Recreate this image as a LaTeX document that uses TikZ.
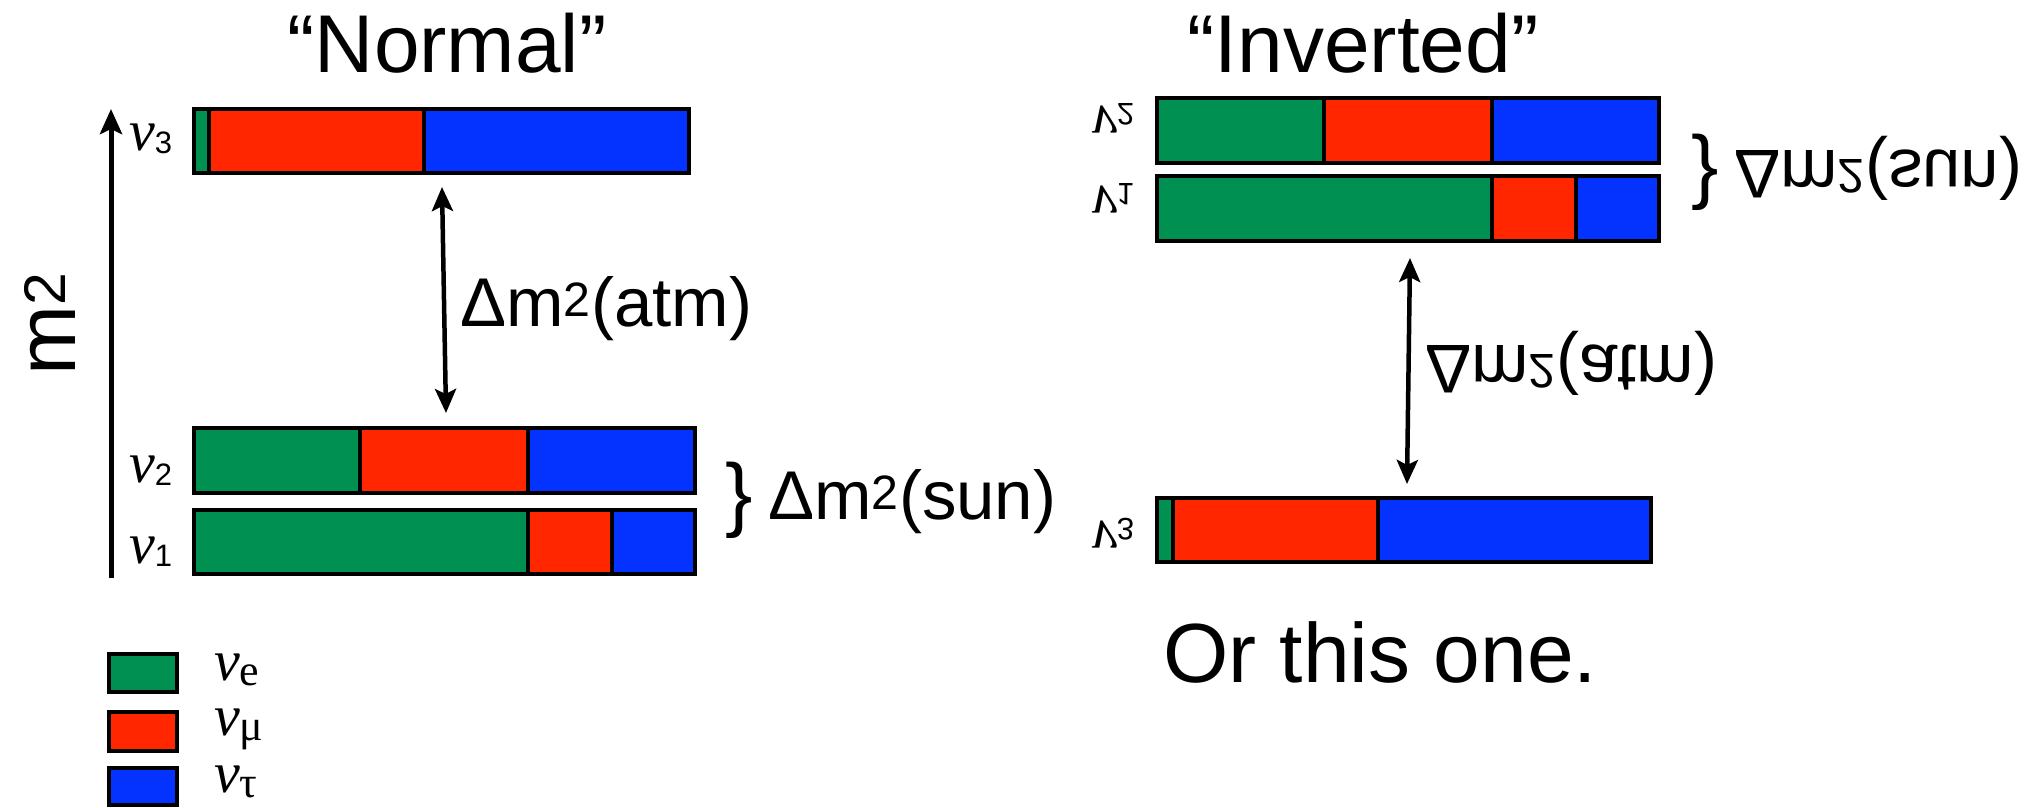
\documentclass[tikz,border=0pt]{standalone}
\usepackage{fontspec,graphicx}
\setmainfont{Liberation Sans}
\newfontfamily\nufont{Liberation Serif}
\usetikzlibrary{arrows.meta}
\definecolor{nue}{HTML}{009051}
\definecolor{numu}{HTML}{FF2600}
\definecolor{nutau}{HTML}{0433FF}
\newcommand{\titel}{\fontsize{82}{90}\selectfont}
\newcommand{\gross}{\fontsize{84}{90}\selectfont}
\newcommand{\mittel}{\fontsize{69}{76}\selectfont}
\newcommand{\klammer}{\fontsize{82}{88}\selectfont}
\newcommand{\nulbl}{\fontsize{58}{64}\selectfont}
\newcommand{\nulab}[1]{{\nufont\itshape ν}\raisebox{-3pt}{\fontsize{31}{34}\selectfont #1}}
\newcommand{\nuleg}[1]{{\nufont\itshape ν}\raisebox{-5pt}{\nufont\fontsize{44}{48}\selectfont #1}}
\tikzset{massarrow/.style={line width=4.5pt,
    {Stealth[length=24pt,width=21pt,inset=5pt]}-{Stealth[length=24pt,width=21pt,inset=5pt]}},
  axisarrow/.style={line width=5pt,-{Stealth[length=25pt,width=22pt,inset=5pt]}},
  barframe/.style={black,line width=4.5pt}}

\begin{document}
\begin{tikzpicture}[x=1pt,y=-1pt]
\useasboundingbox (0,0) rectangle (2040,807);
\node[anchor=base,inner sep=0,font=\titel] (normal) at (447,72) {“Normal”};
\node[anchor=base,inner sep=0,font=\titel] (inverted) at (1363,72) {“Inverted”};
\node[anchor=base,inner sep=0,rotate=90,font=\gross] (msq) at (75,324) {m\textsuperscript{2}};
\coordinate (axbot) at (111,578);\coordinate (axtop) at (111,109);
\draw[axisarrow] (axbot) -- (axtop);
\fill[nue] (194,109) rectangle (209,173);\fill[numu] (209,109) rectangle (424,173);\fill[nutau] (424,109) rectangle (689,173);
\draw[barframe] (194,109) rectangle (689,173);
\draw[barframe] (209,109) -- (209,173);\draw[barframe] (424,109) -- (424,173);
\fill[nue] (194,428) rectangle (360,493);\fill[numu] (360,428) rectangle (528,493);\fill[nutau] (528,428) rectangle (695,493);
\draw[barframe] (194,428) rectangle (695,493);
\draw[barframe] (360,428) -- (360,493);\draw[barframe] (528,428) -- (528,493);
\fill[nue] (194,510) rectangle (528,574);\fill[numu] (528,510) rectangle (612,574);\fill[nutau] (612,510) rectangle (695,574);
\draw[barframe] (194,510) rectangle (695,574);
\draw[barframe] (528,510) -- (528,574);\draw[barframe] (612,510) -- (612,574);
\node[anchor=base west,inner sep=0,font=\nulbl] (lnuthree) at (129,150) {\nulab{3}};
\node[anchor=base west,inner sep=0,font=\nulbl] (lnutwo) at (129,482) {\nulab{2}};
\node[anchor=base west,inner sep=0,font=\nulbl] (lnuone) at (129,563) {\nulab{1}};
\coordinate (latmtop) at (442,187);\coordinate (latmbot) at (446,413);
\draw[massarrow] (latmtop) -- (latmbot);
\node[anchor=base west,inner sep=0,font=\mittel] (latm) at (460,326) {Δm\textsuperscript{2}(atm)};
\node[anchor=base west,inner sep=0,font=\klammer] (lbrace) at (725,521) {\}};
\node[anchor=base west,inner sep=0,font=\mittel] (lsun) at (768,519) {Δm\textsuperscript{2}(sun)};
\fill[nue] (1157,98) rectangle (1324,163);\fill[numu] (1324,98) rectangle (1492,163);\fill[nutau] (1492,98) rectangle (1659,163);
\draw[barframe] (1157,98) rectangle (1659,163);
\draw[barframe] (1324,98) -- (1324,163);\draw[barframe] (1492,98) -- (1492,163);
\fill[nue] (1157,176) rectangle (1492,241);\fill[numu] (1492,176) rectangle (1576,241);\fill[nutau] (1576,176) rectangle (1659,241);
\draw[barframe] (1157,176) rectangle (1659,241);
\draw[barframe] (1492,176) -- (1492,241);\draw[barframe] (1576,176) -- (1576,241);
\fill[nue] (1157,498) rectangle (1173,562);\fill[numu] (1173,498) rectangle (1378,562);\fill[nutau] (1378,498) rectangle (1651,562);
\draw[barframe] (1157,498) rectangle (1651,562);
\draw[barframe] (1173,498) -- (1173,562);\draw[barframe] (1378,498) -- (1378,562);
\node[anchor=base west,inner sep=0,font=\nulbl] (rnutwo) at (1091,106) {\scalebox{1}[-1]{\nulab{2}}};
\node[anchor=base west,inner sep=0,font=\nulbl] (rnuone) at (1091,186) {\scalebox{1}[-1]{\nulab{1}}};
\node[anchor=base west,inner sep=0,font=\nulbl] (rnuthree) at (1091,521) {\scalebox{1}[-1]{\nulab{3}}};
\node[anchor=base west,inner sep=0,font=\klammer] (rbrace) at (1691,193) {\}};
\node[anchor=base west,inner sep=0,font=\mittel] (rsun) at (1734,150) {\scalebox{1}[-1]{Δm\textsuperscript{2}(sun)}};
\coordinate (ratmtop) at (1410,258);\coordinate (ratmbot) at (1407,484);
\draw[massarrow] (ratmtop) -- (ratmbot);
\node[anchor=base west,inner sep=0,font=\mittel] (ratm) at (1425,345) {\scalebox{1}[-1]{Δm\textsuperscript{2}(atm)}};
\node[anchor=base west,inner sep=0,font=\gross] (orthis) at (1163,682) {Or this one.};
\fill[nue] (109,654) rectangle (177,692);\draw[barframe] (109,654) rectangle (177,692);
\fill[numu] (109,712) rectangle (177,751);\draw[barframe] (109,712) rectangle (177,751);
\fill[nutau] (109,768) rectangle (177,805);\draw[barframe] (109,768) rectangle (177,805);
\node[anchor=base west,inner sep=0,font=\nulbl] (legnue) at (214,680) {\nuleg{e}};
\node[anchor=base west,inner sep=0,font=\nulbl] (legnumu) at (214,735) {\nuleg{μ}};
\node[anchor=base west,inner sep=0,font=\nulbl] (legnutau) at (214,792) {\nuleg{τ}};
\end{tikzpicture}
\end{document}
